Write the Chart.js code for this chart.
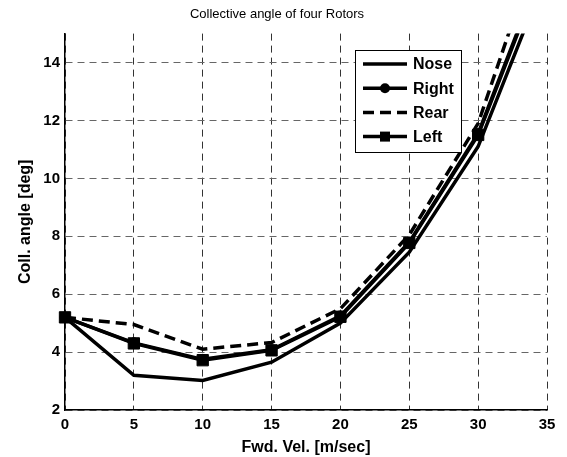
<!DOCTYPE html>
<html>
<head>
<meta charset="utf-8">
<script src="https://cdn.jsdelivr.net/npm/chart.js@4.4.1/dist/chart.umd.min.js"></script>
<style>
  html, body { margin: 0; padding: 0; background: #fff; }
  #wrap { width: 567px; height: 457px; }
</style>
</head>
<body>
<div id="wrap"><canvas id="chart" width="567" height="457"></canvas></div>
<script>
// forward velocity [m/sec]
const velocidades = [0, 5, 10, 15, 20, 25, 30, 35];
// collective angle per rotor [deg]
const nose  = [5.2, 3.2, 3.02, 3.65, 5.0, 7.45, 11.1, 17.1];
const right = [5.2, 4.32, 3.75, 4.08, 5.25, 7.8, 11.55, 17.7];
const rear  = [5.2, 4.95, 4.1, 4.33, 5.5, 8.05, 11.9, 18.9];
const left  = [5.2, 4.3, 3.72, 4.06, 5.22, 7.77, 11.5, 17.6];
const yTicks = [2, 4, 6, 8, 10, 12, 14];
const xTicks = [0, 5, 10, 15, 20, 25, 30, 35];

const fonte = '"Liberation Sans", Arial, sans-serif';
const pontos = arr => velocidades.map((v, i) => ({ x: v, y: arr[i] }));
const clipArea = { left: 10, top: 0, right: 0, bottom: 0 };

// legend drawn inside the plot, like the original
const legendBox = {
  id: 'legendBox',
  afterDatasetsDraw(chart) {
    const ctx = chart.ctx;
    const x0 = 355, y0 = 50, w = 106, h = 102;
    ctx.save();
    ctx.fillStyle = '#fff';
    ctx.fillRect(x0, y0, w, h);
    ctx.strokeStyle = '#000';
    ctx.lineWidth = 1;
    ctx.strokeRect(x0 + 0.5, y0 + 0.5, w, h);
    chart.data.datasets.forEach((ds, i) => {
      const y = y0 + 14 + i * 24.2;
      ctx.beginPath();
      ctx.setLineDash(ds.borderDash || []);
      ctx.lineWidth = ds.borderWidth;
      ctx.strokeStyle = '#000';
      ctx.moveTo(x0 + 8, y);
      ctx.lineTo(x0 + 52, y);
      ctx.stroke();
      ctx.setLineDash([]);
      ctx.fillStyle = '#000';
      if (ds.pointRadius > 0 && ds.pointStyle === 'circle') {
        ctx.beginPath();
        ctx.arc(x0 + 30, y, 5, 0, Math.PI * 2);
        ctx.fill();
      } else if (ds.pointRadius > 0 && ds.pointStyle === 'rect') {
        ctx.fillRect(x0 + 25, y - 5, 10, 10);
      }
      ctx.font = 'bold 16px ' + fonte;
      ctx.textBaseline = 'middle';
      ctx.fillText(ds.label, x0 + 58, y + 1);
    });
    ctx.restore();
  }
};

const ctx = document.getElementById('chart').getContext('2d');
new Chart(ctx, {
  type: 'line',
  data: {
    datasets: [
      { label: 'Nose', data: pontos(nose), borderColor: '#000', backgroundColor: '#000',
        borderWidth: 3.5, pointRadius: 0, clip: clipArea, order: 4 },
      { label: 'Right', data: pontos(right), borderColor: '#000', backgroundColor: '#000',
        borderWidth: 3.5, pointStyle: 'circle', pointRadius: 5, pointBorderWidth: 1, clip: clipArea, order: 3 },
      { label: 'Rear', data: pontos(rear), borderColor: '#000', backgroundColor: '#000',
        borderWidth: 3.5, borderDash: [11, 6], pointRadius: 0, clip: clipArea, order: 2 },
      { label: 'Left', data: pontos(left), borderColor: '#000', backgroundColor: '#000',
        borderWidth: 3.5, pointStyle: 'rect', pointRadius: 8, pointBorderWidth: 1, clip: clipArea, order: 1 }
    ]
  },
  options: {
    responsive: false,
    animation: false,
    devicePixelRatio: 1,
    layout: { padding: { left: 7, right: 20, top: 0, bottom: 0 } },
    plugins: {
      legend: { display: false },
      tooltip: { enabled: false },
      title: {
        display: true,
        text: 'Collective angle of four Rotors',
        color: '#000',
        font: { family: fonte, size: 13, weight: 'normal' },
        padding: { top: 7, bottom: 11 }
      }
    },
    scales: {
      x: {
        type: 'linear',
        min: 0, max: 35,
        afterBuildTicks: s => { s.ticks = xTicks.map(v => ({ value: v })); },
        afterFit: s => { s.height = 47; },
        grid: { color: '#333', lineWidth: 1, drawTicks: false },
        border: { display: true, color: '#000', width: 1.5, dash: [7, 5] },
        ticks: { color: '#000', padding: 6, maxRotation: 0, font: { family: fonte, size: 15, weight: 'bold' } },
        title: {
          display: true, text: 'Fwd. Vel. [m/sec]', color: '#000',
          font: { family: fonte, size: 16, weight: 'bold' },
          padding: { top: 10, bottom: 0 }
        }
      },
      y: {
        min: 2, max: 15,
        afterBuildTicks: s => { s.ticks = yTicks.map(v => ({ value: v })); },
        afterFit: s => { s.width = 58; },
        grid: { color: '#666', lineWidth: 1, drawTicks: false },
        border: { display: true, color: '#000', width: 1.5, dash: [7, 5] },
        ticks: { color: '#000', padding: 5, font: { family: fonte, size: 15, weight: 'bold' } },
        title: {
          display: true, text: 'Coll. angle [deg]', color: '#000',
          font: { family: fonte, size: 16, weight: 'bold' },
          padding: { top: 9, bottom: 0 }
        }
      }
    }
  },
  plugins: [legendBox]
});
</script>
</body>
</html>
